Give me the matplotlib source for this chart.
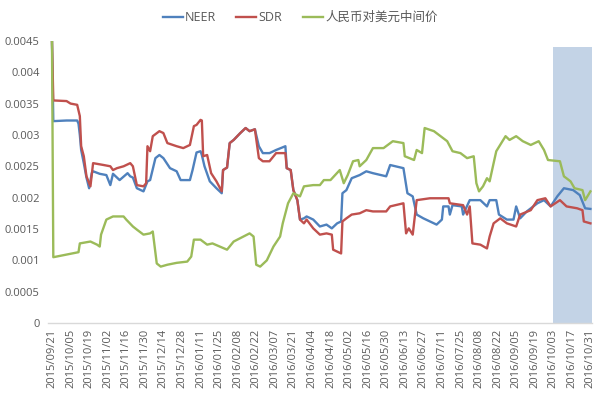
import matplotlib
matplotlib.use("Agg")
import matplotlib.pyplot as plt
import matplotlib.dates as mdates
import pandas as pd

plt.rcParams['font.family'] = ['Open Sans', 'Noto Sans CJK SC', 'DejaVu Sans']

series_names = ['NEER', 'SDR', '人民币对美元中间价']
series_colors = ['#4F81BD', '#C0504D', '#9BBB59']

neer_dates = ['2015-09-21','2015-09-22','2015-10-02','2015-10-10','2015-10-11','2015-10-12','2015-10-13','2015-10-15','2015-10-17','2015-10-19',
              '2015-10-21','2015-10-22','2015-10-27','2015-11-01','2015-11-04','2015-11-06','2015-11-11','2015-11-17','2015-11-19','2015-11-21',
              '2015-11-24','2015-11-29','2015-12-02','2015-12-04','2015-12-08','2015-12-11','2015-12-14','2015-12-19','2015-12-24','2015-12-27',
              '2016-01-03','2016-01-05','2016-01-08','2016-01-11','2016-01-12','2016-01-14','2016-01-18','2016-01-23','2016-01-27','2016-01-28',
              '2016-01-31','2016-02-02','2016-02-05','2016-02-10','2016-02-14','2016-02-17','2016-02-21','2016-02-24','2016-02-27','2016-03-03',
              '2016-03-08','2016-03-15','2016-03-16','2016-03-19','2016-03-21','2016-03-24','2016-03-26','2016-03-29','2016-03-31','2016-04-05',
              '2016-04-10','2016-04-15','2016-04-19','2016-04-23','2016-04-26','2016-04-27','2016-04-30','2016-05-04','2016-05-10','2016-05-15',
              '2016-05-20','2016-05-30','2016-06-02','2016-06-12','2016-06-15','2016-06-19','2016-06-22','2016-06-27','2016-07-07','2016-07-11',
              '2016-07-12','2016-07-16','2016-07-17','2016-07-19','2016-07-26','2016-07-27','2016-08-01','2016-08-09','2016-08-14','2016-08-16',
              '2016-08-21','2016-08-23','2016-08-29','2016-09-03','2016-09-05','2016-09-08','2016-09-13','2016-09-21','2016-09-26','2016-10-01',
              '2016-10-06','2016-10-11','2016-10-18','2016-10-23','2016-10-27','2016-10-31']
neer_values = [0.0045,0.00322,0.00323,0.00323,0.00318,0.00300,0.00276,0.00255,0.00232,0.00215,
               0.00239,0.00242,0.00238,0.00236,0.00220,0.00238,0.00228,0.00239,0.00234,0.00232,
               0.00215,0.00210,0.00226,0.00228,0.00263,0.00268,0.00263,0.00247,0.00242,0.00228,
               0.00228,0.00244,0.00272,0.00274,0.00268,0.00250,0.00226,0.00215,0.00207,0.00244,
               0.00248,0.00287,0.00292,0.00303,0.00311,0.00306,0.00309,0.00282,0.00271,0.00271,
               0.00276,0.00282,0.00247,0.00244,0.00212,0.00196,0.00165,0.00167,0.00170,0.00165,
               0.00154,0.00157,0.00151,0.00159,0.00162,0.00207,0.00212,0.00231,0.00236,0.00242,
               0.00239,0.00234,0.00252,0.00247,0.00207,0.00202,0.00173,0.00167,0.00157,0.00165,
               0.00186,0.00186,0.00173,0.00188,0.00186,0.00173,0.00196,0.00196,0.00186,0.00196,
               0.00196,0.00173,0.00165,0.00165,0.00186,0.00167,0.00178,0.00191,0.00196,0.00186,
               0.00202,0.00215,0.00212,0.00204,0.00183,0.00182]

sdr_dates = ['2015-09-21','2015-09-22','2015-10-02','2015-10-05','2015-10-10','2015-10-12','2015-10-13','2015-10-15','2015-10-17','2015-10-20',
             '2015-10-22','2015-10-30','2015-11-04','2015-11-06','2015-11-09','2015-11-14','2015-11-19','2015-11-21','2015-11-24','2015-11-29',
             '2015-12-01','2015-12-02','2015-12-04','2015-12-06','2015-12-11','2015-12-14','2015-12-17','2015-12-24','2015-12-29','2016-01-03',
             '2016-01-06','2016-01-08','2016-01-11','2016-01-12','2016-01-13','2016-01-16','2016-01-19','2016-01-23','2016-01-27','2016-01-28',
             '2016-01-31','2016-02-02','2016-02-05','2016-02-10','2016-02-14','2016-02-17','2016-02-21','2016-02-24','2016-02-27','2016-03-03',
             '2016-03-08','2016-03-15','2016-03-16','2016-03-19','2016-03-21','2016-03-24','2016-03-26','2016-03-29','2016-03-31','2016-04-05',
             '2016-04-10','2016-04-15','2016-04-19','2016-04-20','2016-04-23','2016-04-26','2016-04-27','2016-04-30','2016-05-04','2016-05-10',
             '2016-05-15','2016-05-20','2016-05-30','2016-06-02','2016-06-12','2016-06-14','2016-06-16','2016-06-19','2016-06-22','2016-07-02',
             '2016-07-16','2016-07-17','2016-07-27','2016-07-30','2016-08-01','2016-08-03','2016-08-09','2016-08-14','2016-08-16','2016-08-19',
             '2016-08-24','2016-08-29','2016-09-05','2016-09-08','2016-09-16','2016-09-21','2016-09-27','2016-10-01','2016-10-08','2016-10-13',
             '2016-10-21','2016-10-25','2016-10-26','2016-10-31']
sdr_values = [0.0045,0.00355,0.00354,0.00350,0.00348,0.00330,0.00282,0.00266,0.00234,0.00218,
              0.00255,0.00252,0.00250,0.00244,0.00247,0.00250,0.00255,0.00250,0.00220,0.00218,
              0.00223,0.00282,0.00274,0.00298,0.00306,0.00303,0.00287,0.00282,0.00279,0.00284,
              0.00314,0.00316,0.00324,0.00323,0.00266,0.00268,0.00239,0.00226,0.00210,0.00244,
              0.00248,0.00287,0.00292,0.00303,0.00311,0.00306,0.00309,0.00263,0.00258,0.00258,
              0.00271,0.00271,0.00247,0.00244,0.00212,0.00196,0.00165,0.00159,0.00165,0.00151,
              0.00141,0.00143,0.00141,0.00117,0.00114,0.00111,0.00162,0.00167,0.00173,0.00175,
              0.00180,0.00178,0.00178,0.00186,0.00191,0.00143,0.00151,0.00141,0.00196,0.00199,
              0.00199,0.00191,0.00188,0.00173,0.00186,0.00127,0.00125,0.00119,0.00138,0.00159,
              0.00167,0.00159,0.00154,0.00173,0.00180,0.00196,0.00199,0.00186,0.00196,0.00186,
              0.00183,0.00180,0.00162,0.00159]

cny_dates = ['2015-09-21','2015-09-22','2015-10-11','2015-10-12','2015-10-20','2015-10-25','2015-10-27','2015-10-28','2015-11-01','2015-11-06',
             '2015-11-14','2015-11-16','2015-11-21','2015-11-24','2015-11-29','2015-12-04','2015-12-06','2015-12-09','2015-12-12','2015-12-17',
             '2015-12-24','2016-01-01','2016-01-04','2016-01-06','2016-01-11','2016-01-16','2016-01-20','2016-01-31','2016-02-05','2016-02-17',
             '2016-02-20','2016-02-22','2016-02-25','2016-03-01','2016-03-06','2016-03-11','2016-03-13','2016-03-17','2016-03-21','2016-03-26',
             '2016-03-29','2016-04-05','2016-04-10','2016-04-13','2016-04-18','2016-04-25','2016-04-28','2016-05-01','2016-05-05','2016-05-09',
             '2016-05-10','2016-05-15','2016-05-20','2016-05-28','2016-06-04','2016-06-12','2016-06-13','2016-06-20','2016-06-22','2016-06-26',
             '2016-06-28','2016-07-05','2016-07-10','2016-07-15','2016-07-19','2016-07-25','2016-07-30','2016-08-04','2016-08-06','2016-08-08',
             '2016-08-11','2016-08-14','2016-08-16','2016-08-19','2016-08-21','2016-08-28','2016-08-31','2016-09-05','2016-09-10','2016-09-16',
             '2016-09-22','2016-09-26','2016-09-29','2016-10-08','2016-10-11','2016-10-16','2016-10-19','2016-10-25','2016-10-27','2016-10-31']
cny_values = [0.0045,0.00105,0.00113,0.00127,0.00130,0.00125,0.00122,0.00141,0.00165,0.00170,
              0.00170,0.00165,0.00154,0.00149,0.00141,0.00143,0.00146,0.00095,0.00090,0.00093,
              0.00096,0.00098,0.00106,0.00133,0.00133,0.00125,0.00127,0.00117,0.00130,0.00143,
              0.00138,0.00093,0.00090,0.00100,0.00122,0.00138,0.00159,0.00191,0.00207,0.00202,
              0.00218,0.00220,0.00220,0.00228,0.00228,0.00244,0.00223,0.00236,0.00258,0.00260,
              0.00250,0.00260,0.00279,0.00279,0.00290,0.00287,0.00266,0.00260,0.00276,0.00271,
              0.00311,0.00306,0.00298,0.00290,0.00274,0.00271,0.00263,0.00266,0.00223,0.00210,
              0.00218,0.00231,0.00226,0.00255,0.00274,0.00298,0.00292,0.00298,0.00290,0.00284,
              0.00290,0.00276,0.00260,0.00258,0.00234,0.00226,0.00215,0.00212,0.00196,0.00210]

y_ticks = [0, 0.0005, 0.001, 0.0015, 0.002, 0.0025, 0.003, 0.0035, 0.004, 0.0045]
y_tick_labels = ['0', '0.0005', '0.001', '0.0015', '0.002', '0.0025', '0.003', '0.0035', '0.004', '0.0045']
x_tick_start = '2015-09-21'
x_tick_end = '2016-10-31'
highlight_start = '2016-10-03'
highlight_end = '2016-11-01'

fig = plt.figure(figsize=(6.0, 3.93), dpi=100)
ax = fig.add_axes([0.080, 0.178, 0.907, 0.718])

ax.axvspan(pd.Timestamp(highlight_start), pd.Timestamp(highlight_end) + pd.Timedelta(hours=8),
           ymin=0, ymax=0.98, color='#c3d3e6', lw=0, zorder=0)

all_dates = [neer_dates, sdr_dates, cny_dates]
all_vals = [neer_values, sdr_values, cny_values]
for name, col, d, v in zip(series_names, series_colors, all_dates, all_vals):
    ax.plot(pd.to_datetime(d), v, color=col, lw=1.7, label=name, solid_joinstyle='round', zorder=2)

ax.set_ylim(0, 0.0045)
ax.set_yticks(y_ticks)
ax.set_yticklabels(y_tick_labels)

xticks = pd.date_range(x_tick_start, x_tick_end, freq='14D')
ax.set_xticks(xticks)
ax.set_xticklabels([t.strftime('%Y/%m/%d') for t in xticks], rotation=90)
ax.set_xlim(pd.Timestamp(x_tick_start) - pd.Timedelta(days=3), pd.Timestamp(highlight_end) + pd.Timedelta(hours=8))

for s in ['top', 'right', 'left']:
    ax.spines[s].set_visible(False)
ax.spines['bottom'].set_color('#d9d9d9')
ax.spines['bottom'].set_linewidth(1.0)
ax.tick_params(axis='both', length=0, labelsize=8, colors='#595959')
ax.tick_params(axis='x', pad=4)
ax.tick_params(axis='y', pad=6)

leg = ax.legend(loc='upper center', bbox_to_anchor=(0.5, 1.0), bbox_transform=fig.transFigure,
                ncol=3, frameon=False, fontsize=9, handlelength=1.6, columnspacing=1.6,
                handletextpad=0.2)
for t in leg.get_texts():
    t.set_color('#595959')

fig.savefig('out.png', dpi=100)
